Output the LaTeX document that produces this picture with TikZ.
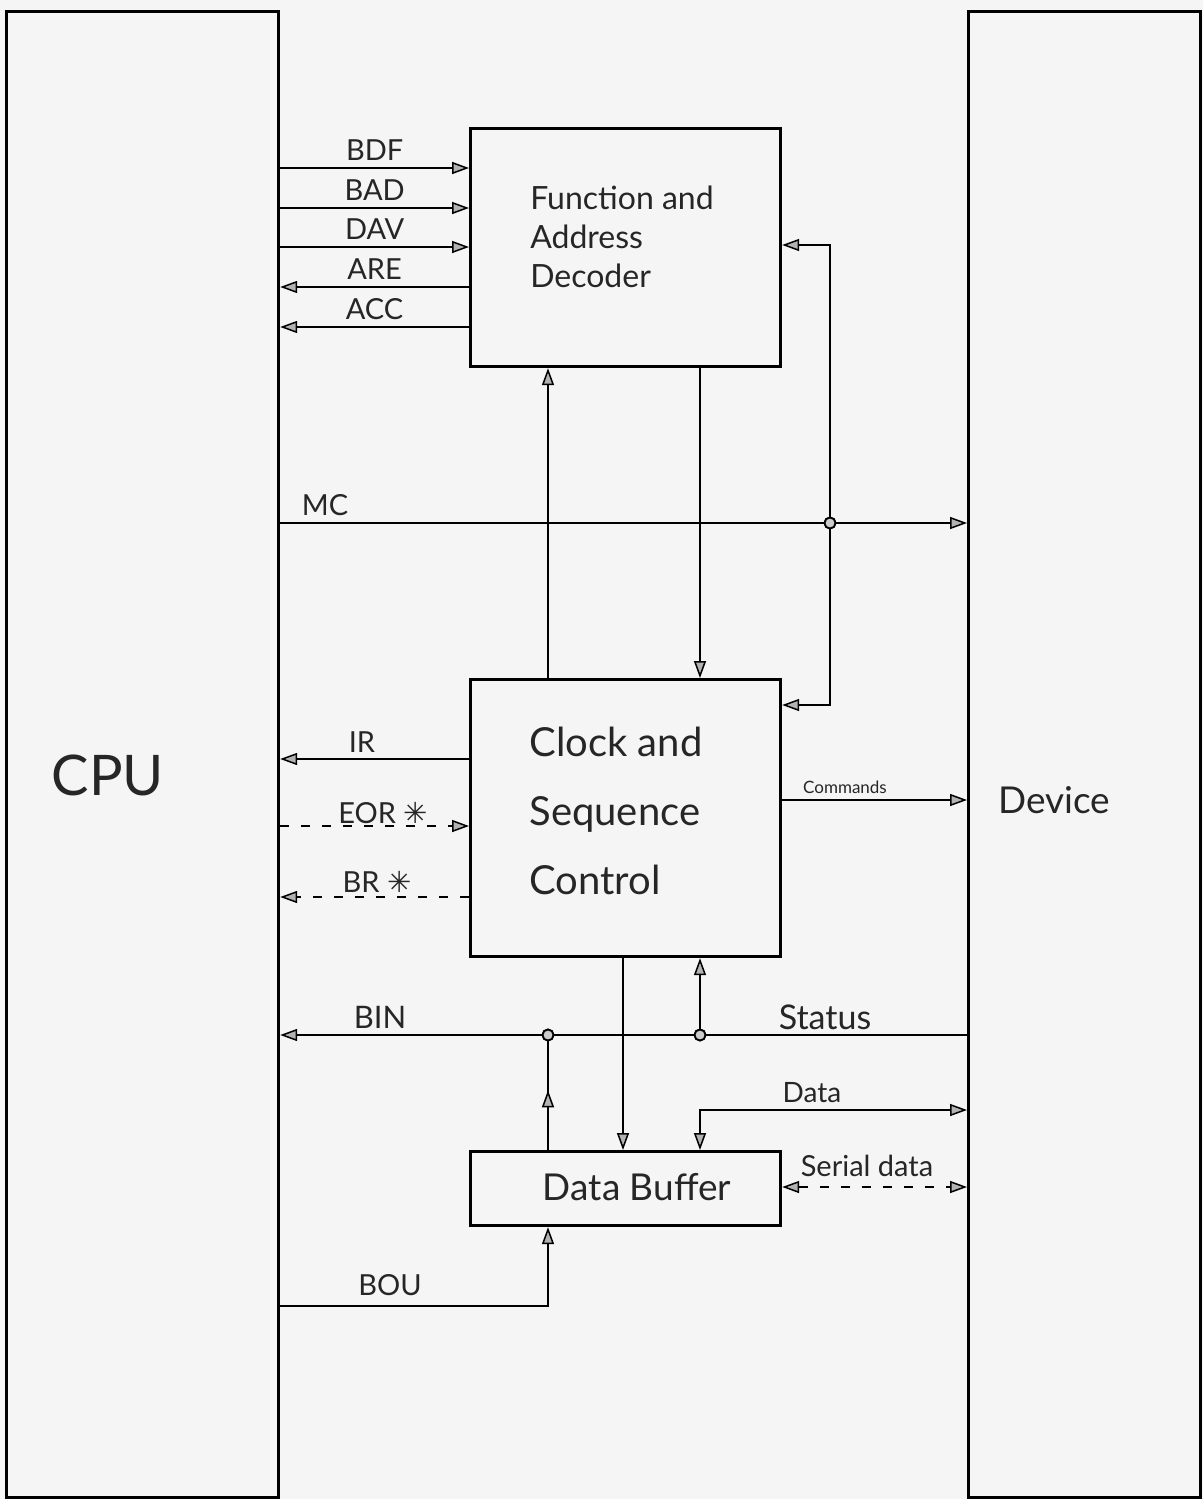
\documentclass[tikz,border=0pt]{standalone}
\usepackage{fontspec}
\setmainfont{Lato}
\newfontfamily\symfont{DejaVu Sans}
\usetikzlibrary{arrows.meta,decorations.markings}
\tikzset{
  blk/.style={draw=black, line width=3.2pt, rectangle, inner sep=0pt, anchor=north west},
  sig/.style={draw=black, line width=2.7pt},
  dsig/.style={sig, dash pattern=on 9pt off 12pt},
  tip/.style={>={Triangle[length=17pt,width=12pt,fill=black!30,line width=1.5pt]}},
  lbl/.style={font=\fontsize{29}{30}\selectfont, inner sep=0pt, text=black!85},
  junc/.style={circle, draw=black, line width=1.8pt, fill=black!20, inner sep=0pt, minimum size=11pt},
  midup/.style={postaction={decorate}, decoration={markings, mark=at position 0.55 with {\arrow{Triangle[length=17pt,width=12pt,fill=black!30,line width=1.5pt]}}}}
}
\begin{document}
\begin{tikzpicture}[x=1pt,y=-1pt,tip]
\useasboundingbox[fill=black!4] (0,0) rectangle (1203,1499);
% main blocks
\node[blk, minimum width=272pt, minimum height=1486pt] (cpu) at (5,10) {};
\node[blk, minimum width=232pt, minimum height=1486pt] (dev) at (967,10) {};
\node[blk, minimum width=310pt, minimum height=238pt] (fad) at (469,127) {};
\node[blk, minimum width=310pt, minimum height=277pt] (csc) at (469,678) {};
\node[blk, minimum width=310pt, minimum height=74pt] (db) at (469,1150) {};
% block texts
\node[lbl, font=\fontsize{56}{56}\selectfont] (cpulbl) at (108,775) {CPU};
\node[lbl, font=\fontsize{37}{37}\selectfont] (devlbl) at (1054,800) {Device};
\node[lbl, align=left, font=\fontsize{32}{39}\selectfont] (fadlbl) at (622,237) {Function and\\Address\\Decoder};
\node[lbl, align=left, font=\fontsize{40}{69}\selectfont] (csclbl) at (616,811) {Clock and\\Sequence\\Control};
\node[lbl, font=\fontsize{37}{37}\selectfont] (dblbl) at (637,1187) {Data Buffer};
% junctions
\node[junc] (jmc) at (830,523) {};
\node[junc] (jb1) at (548,1035) {};
\node[junc] (jst) at (700,1035) {};
% CPU <-> function and address decoder
\draw[sig,->] (cpu.east |- 0,168) -- node[lbl, above=6pt] (bdf) {BDF} (fad.west |- 0,168);
\draw[sig,->] (cpu.east |- 0,208) -- node[lbl, above=6pt] (bad) {BAD} (fad.west |- 0,208);
\draw[sig,->] (cpu.east |- 0,247) -- node[lbl, above=6pt] (dav) {DAV} (fad.west |- 0,247);
\draw[sig,->] (fad.west |- 0,287) -- node[lbl, above=6pt] (are) {ARE} (cpu.east |- 0,287);
\draw[sig,->] (fad.west |- 0,327) -- node[lbl, above=6pt] (acc) {ACC} (cpu.east |- 0,327);
% decoder <-> clock
\draw[sig,->] (csc.north -| 548,0) -- (fad.south -| 548,0);
\draw[sig,->] (fad.south -| 700,0) -- (csc.north -| 700,0);
% MC
\draw[sig,->] (cpu.east |- 0,523) -- (dev.west |- 0,523);
\node[lbl] (mc) at (325,505) {MC};
% right loop
\draw[sig,<->] (fad.east |- 0,245) -- (830,245) -- (830,705) -- (csc.east |- 0,705);
\node[junc] at (jmc) {};
% clock left signals
\draw[sig,->] (csc.west |- 0,759) -- (cpu.east |- 0,759);
\node[lbl] (ir) at (362,742) {IR};
\draw[dsig,->] (cpu.east |- 0,826) -- (csc.west |- 0,826);
\node[lbl] (eor) at (383,813) {EOR {\symfont ✳}};
\draw[dsig,->] (csc.west |- 0,897) -- (cpu.east |- 0,897);
\node[lbl] (br) at (377,882) {BR {\symfont ✳}};
% commands
\draw[sig,->] (csc.east |- 0,800) -- (dev.west |- 0,800);
\node[lbl, font=\fontsize{17}{17}\selectfont] (cmd) at (845,787) {Commands};
% BIN / Status line
\draw[sig,->] (dev.west |- 0,1035) -- (cpu.east |- 0,1035);
\node[lbl, font=\fontsize{31}{31}\selectfont] (bin) at (380,1017) {BIN};
\node[lbl, font=\fontsize{34}{34}\selectfont] (status) at (825,1017) {Status};
\draw[sig,->] (jst) -- (csc.south -| 700,0);
\draw[sig,midup] (db.north -| 548,0) -- (jb1);
\node[junc] at (jb1) {};
\node[junc] at (jst) {};
% clock -> data buffer
\draw[sig,->] (csc.south -| 623,0) -- (db.north -| 623,0);
% Data
\draw[sig,<->] (dev.west |- 0,1110) -| (db.north -| 700,0);
\node[lbl, font=\fontsize{28}{28}\selectfont] (data) at (812,1093) {Data};
% Serial data
\draw[dsig,<->] (db.east |- 0,1187) -- (dev.west |- 0,1187);
\node[lbl, font=\fontsize{29}{29}\selectfont] (serial) at (867,1166) {Serial data};
% BOU
\draw[sig,->] (cpu.east |- 0,1306) -| (db.south -| 548,0);
\node[lbl] (bou) at (390,1285) {BOU};
\end{tikzpicture}
\end{document}
